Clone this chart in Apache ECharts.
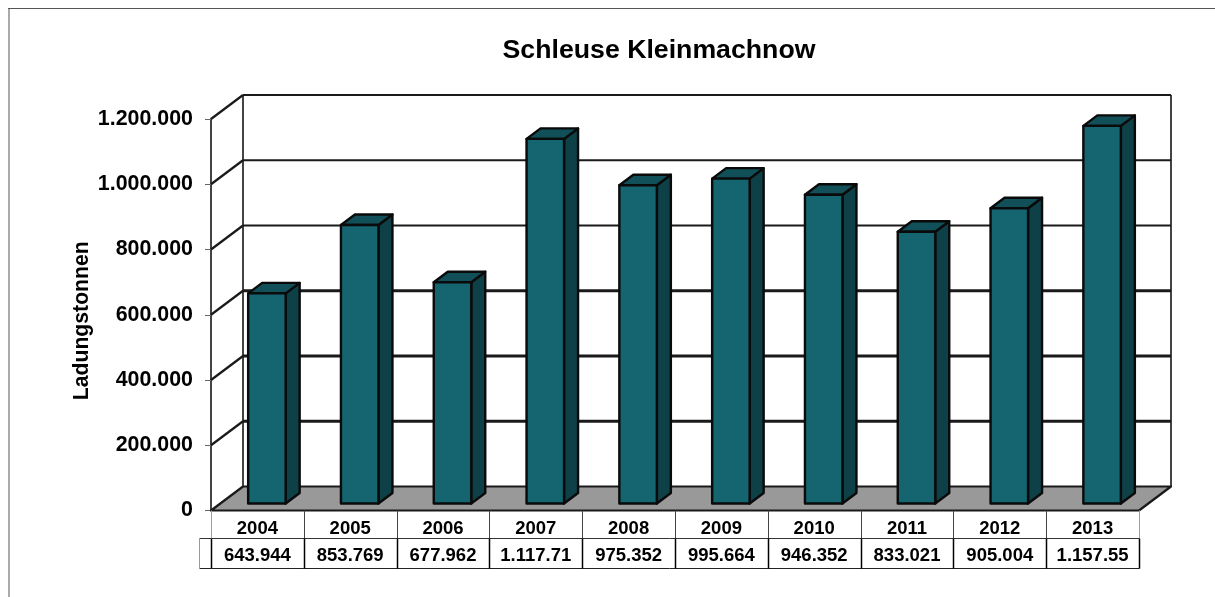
<!DOCTYPE html>
<html><head><meta charset="utf-8">
<style>html,body{margin:0;padding:0;background:#fff}#c{width:1215px;height:597px}</style>
<script src="https://cdn.jsdelivr.net/npm/echarts@6/dist/echarts.min.js"></script>
</head><body><div id="c"></div>
<script>
const title = 'Schleuse Kleinmachnow';
const yName = 'Ladungstonnen';
const years = ['2004','2005','2006','2007','2008','2009','2010','2011','2012','2013'];
const values = [643944,853769,677962,1117710,975352,995664,946352,833021,905004,1157550];
const tableLabels = ['643.944','853.769','677.962','1.117.71','975.352','995.664','946.352','833.021','905.004','1.157.55'];
const ticks = [0,200000,400000,600000,800000,1000000,1200000];

const FONT = '"Liberation Sans", Arial, sans-serif';
const WALL_DX = 32, WALL_DY = 24;        // depth of chart box
const BAR_DX = 14, BAR_DY = 10.5;        // depth of bars
const BAR_SHIFT = 9.5, BAR_Y = 7, BAR_W = 37.5; // bar placement on floor
const ROW = 27.5, ROW2 = 30, STUB = 12;

const fmt = v => String(v).replace(/\B(?=(\d{3})+$)/g,'.');
const ink = '#0a0a0a', wallInk = '#1a1a1a';

function line(x1,y1,x2,y2,stroke,lw){
  return {type:'line',shape:{x1,y1,x2,y2},style:{stroke,lineWidth:lw,fill:null}};
}
function poly(points,fill,stroke,lw){
  return {type:'polygon',shape:{points},style:{fill,stroke,lineWidth:lw,lineJoin:'round'}};
}

const chart = echarts.init(document.getElementById('c'),null,{renderer:'canvas'});
chart.setOption({
  animation:false,
  backgroundColor:'#fff',
  graphic:[
    {type:'line',silent:true,shape:{x1:8,y1:8.5,x2:1215,y2:8.5},style:{stroke:'#555',lineWidth:1.2}},
    {type:'line',silent:true,shape:{x1:9,y1:9,x2:9,y2:597},style:{stroke:'#aaa',lineWidth:2}}
  ],
  title:{text:title,left:654,top:32,textAlign:'center',
    textStyle:{fontFamily:FONT,fontWeight:'bold',fontSize:26.7,color:'#000'}},
  grid:{left:211,right:76,top:119,bottom:86.5,containLabel:false},
  xAxis:[{
    type:'category',data:years,
    axisLine:{show:false},axisTick:{show:false},splitLine:{show:false},
    axisLabel:{margin:9,fontFamily:FONT,fontWeight:'bold',fontSize:18.5,color:'#000',interval:0}
  },{
    type:'category',position:'bottom',offset:25.5,data:tableLabels,
    axisLine:{show:false},axisTick:{show:false},splitLine:{show:false},
    axisLabel:{margin:10,fontFamily:FONT,fontWeight:'bold',fontSize:18.5,color:'#000',interval:0}
  }],
  yAxis:{
    type:'value',min:0,max:1200000,interval:200000,
    name:yName,nameLocation:'middle',nameGap:118,nameRotate:90,nameMoveOverlap:false,
    nameTextStyle:{fontFamily:FONT,fontWeight:'bold',fontSize:21.2,color:'#000',padding:[0,12,0,0]},
    axisLine:{show:true,onZero:false,lineStyle:{color:'#444',width:2}},
    axisTick:{show:true,length:6,lineStyle:{color:'#666',width:1}},
    splitLine:{show:false},
    axisLabel:{margin:18,fontFamily:FONT,fontWeight:'bold',fontSize:21.4,color:'#000',padding:[2,0,0,0],formatter:v=>fmt(v)}
  },
  series:[
    { // chart box: back wall, side wall, floor
      type:'custom',z:1,silent:true,clip:false,
      data:ticks.map(t=>[0,t]),
      encode:{x:0,y:1},
      renderItem(params,api){
        const t = api.value(1);
        const [x0,y] = api.coord([0,t]);
        const catW = api.size([1,0])[0];
        const xL = x0-catW/2, xR = xL+catW*years.length;
        const children = [];
        const lw = t<=600000 && t>0 ? 3 : 2.2;
        if(t===0){
          const top = api.coord([0,ticks[ticks.length-1]])[1];
          children.push(line(xL+WALL_DX,y-WALL_DY,xL+WALL_DX,top-WALL_DY,'#444',2));
          children.push(line(xR+WALL_DX,y-WALL_DY,xR+WALL_DX,top-WALL_DY,'#444',2));
          children.push(poly([[xL,y],[xL+WALL_DX,y-WALL_DY],[xR+WALL_DX,y-WALL_DY],[xR,y]],'#999999',wallInk,2.2));
        } else {
          children.push(line(xL,y,xL+WALL_DX,y-WALL_DY,wallInk,2.2));
          children.push(line(xL+WALL_DX,y-WALL_DY,xR+WALL_DX,y-WALL_DY,wallInk,lw));
        }
        return {type:'group',children};
      }
    },
    { // 3D bars
      type:'custom',z:3,silent:true,clip:false,
      data:values.map((v,i)=>[i,v]),
      encode:{x:0,y:1},
      renderItem(params,api){
        const i = api.value(0), v = api.value(1);
        const x0 = api.coord([i,0])[0]-BAR_W/2+BAR_SHIFT;
        const b = api.coord([i,0])[1]-BAR_Y;
        const pxv = api.coord([i,0])[1]-api.coord([i,v])[1];
        const t = b-pxv, x1 = x0+BAR_W;
        return {type:'group',children:[
          poly([[x1,b],[x1+BAR_DX,b-BAR_DY],[x1+BAR_DX,t-BAR_DY],[x1,t]],'#0e4048',ink,2.4),
          poly([[x0,t],[x0+BAR_DX,t-BAR_DY],[x1+BAR_DX,t-BAR_DY],[x1,t]],'#125059',ink,2.4),
          poly([[x0,b],[x1,b],[x1,t],[x0,t]],'#156570',ink,2.4)
        ]};
      }
    },
    { // data table rules
      type:'custom',z:2,silent:true,clip:false,
      data:[...years.map((y,i)=>[i,0]),[years.length,0]],
      encode:{x:0,y:1},
      renderItem(params,api){
        const i = api.value(0);
        const catW = api.size([1,0])[0];
        const x = Math.round(api.coord([0,0])[0]-catW/2+catW*i)+0.5;
        const y = api.coord([0,0])[1];
        const mid = Math.round(y+ROW)+0.5, bot = mid+ROW2;
        const edge = i===0||i===years.length;
        const ch = [
          line(x,y,x,mid,edge?'#a0a0a0':'#444',1),
          line(x,mid,x,bot,'#000',1.5)
        ];
        if(i===0){
          const xR = x+catW*years.length, xS = x-STUB;
          ch.push(line(xS,mid,xR,mid,'#333',1));
          ch.push(line(xS,bot,xR,bot,'#222',1));
          ch.push(line(xS,mid,xS,bot,'#999',1));
        }
        return {type:'group',children:ch};
      }
    }
  ]
});
</script></body></html>
